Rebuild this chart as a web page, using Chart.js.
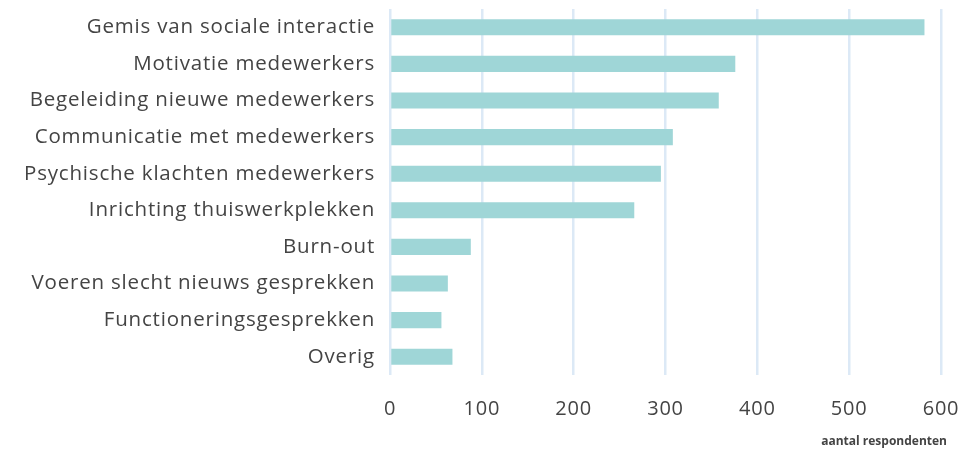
<!DOCTYPE html>
<html>
<head>
<meta charset="utf-8">
<script src="https://cdn.jsdelivr.net/npm/chart.js@4"></script>
<style>
html,body{margin:0;padding:0;background:#fff;}
#wrap{width:980px;height:449px;}
</style>
</head>
<body>
<div id="wrap"><canvas id="c" width="980" height="449"></canvas></div>
<script>
const categories = [
  "Gemis van sociale interactie",
  "Motivatie medewerkers",
  "Begeleiding nieuwe medewerkers",
  "Communicatie met medewerkers",
  "Psychische klachten medewerkers",
  "Inrichting thuiswerkplekken",
  "Burn-out",
  "Voeren slecht nieuws gesprekken",
  "Functioneringsgesprekken",
  "Overig"
];
const values = [582, 376, 358, 308, 295, 266, 88, 63, 56, 68];
const xTicks = [0, 100, 200, 300, 400, 500, 600];
const axisTitle = "aantal respondenten";

const FONT = "'Open Sans'";

const spacingPlugin = {
  id: 'spacing',
  beforeDraw(chart) { chart.ctx.letterSpacing = '0.8px'; },
  afterDraw(chart) {
    const ctx = chart.ctx;
    ctx.save();
    ctx.letterSpacing = '0px';
    ctx.font = "bold 12px " + FONT;
    ctx.fillStyle = '#444';
    ctx.textAlign = 'right';
    ctx.textBaseline = 'middle';
    ctx.fillText(axisTitle, chart.chartArea.right + 6, 442);
    ctx.restore();
  }
};

new Chart(document.getElementById('c'), {
  type: 'bar',
  data: {
    labels: categories,
    datasets: [{
      data: values,
      backgroundColor: '#9fd6d7',
      borderWidth: 0,
      barPercentage: 0.44,
      categoryPercentage: 1.0
    }]
  },
  options: {
    indexAxis: 'y',
    responsive: false,
    animation: false,
    layout: { padding: { top: 9, right: 39, left: 0, bottom: 0 } },
    plugins: { legend: { display: false }, tooltip: { enabled: false } },
    scales: {
      x: {
        min: 0, max: 600,
        afterBuildTicks: (axis) => { axis.ticks = xTicks.map(v => ({ value: v })); },
        afterFit: (axis) => { axis.height = 74; axis.paddingLeft = 0; axis.paddingRight = 0; },
        grid: { color: '#dce9f6', lineWidth: 2.5, drawTicks: false },
        border: { display: false },
        ticks: { color: '#444', font: { family: FONT, size: 20 }, padding: 22 }
      },
      y: {
        afterFit: (axis) => { axis.width = 390; axis.paddingTop = 0; axis.paddingBottom = 0; },
        grid: { display: false, drawTicks: false },
        border: { display: false },
        ticks: { color: '#444', font: { family: FONT, size: 20.5 }, padding: 15 }
      }
    }
  },
  plugins: [spacingPlugin]
});
</script>
</body>
</html>
